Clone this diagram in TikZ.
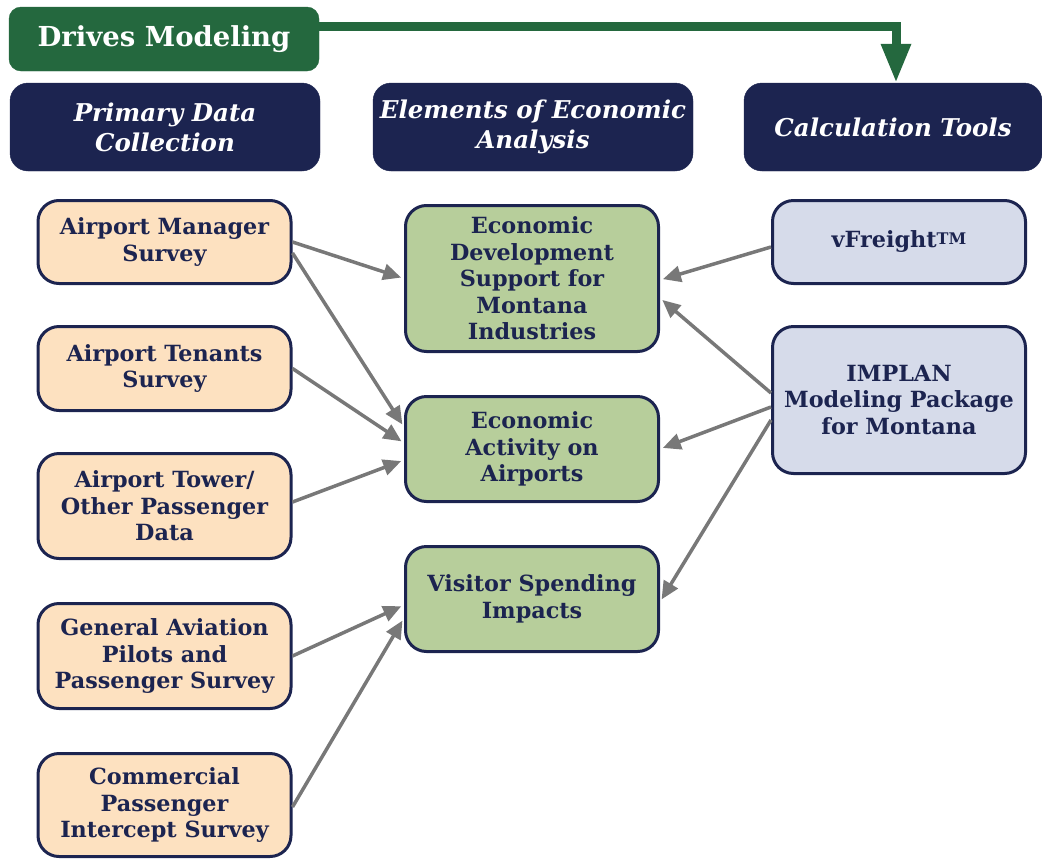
\documentclass[tikz,border=0pt]{standalone}
\usepackage{fontspec}
\setmainfont{DejaVu Serif}
\usetikzlibrary{arrows.meta}

\definecolor{navy}{RGB}{28,36,80}
\definecolor{forest}{RGB}{36,104,62}
\definecolor{peach}{RGB}{253,225,192}
\definecolor{sage}{RGB}{183,206,155}
\definecolor{mist}{RGB}{214,219,234}
\definecolor{arrowgray}{RGB}{120,120,120}

\tikzset{
  header/.style={fill=navy, draw=navy, rounded corners=18pt, text=white,
    align=center, font=\fontsize{24.5}{30}\selectfont\bfseries\itshape,
    minimum height=88pt, inner sep=0pt},
  itembox/.style={draw=navy, line width=3pt, rounded corners=21pt, text=navy,
    align=center, font=\fontsize{22.3}{26.5}\selectfont\bfseries,
    minimum width=253pt, inner sep=0pt},
  source/.style={itembox, fill=peach},
  element/.style={itembox, fill=sage},
  tool/.style={itembox, fill=mist},
  flow/.style={draw=arrowgray, line width=3.5pt,
    -{Triangle[length=18pt,width=16pt]}, shorten >=3pt},
  drive/.style={draw=forest, line width=9pt,
    -{Triangle[length=39pt,width=28pt]}}
}

\begin{document}
\begin{tikzpicture}[x=1pt,y=-1pt]
\useasboundingbox (0,0) rectangle (1042,860);

% top banner and column headers
\node[fill=forest, draw=forest, rounded corners=12pt, text=white,
  font=\fontsize{27.5}{30}\selectfont\bfseries,
  minimum width=310pt, minimum height=64pt, inner sep=0pt]
  (DM) at (164,39) {Drives Modeling};
\node[header, minimum width=310pt] (H1) at (165,127) {Primary Data\\Collection};
\node[header, minimum width=320pt] (H2) at (533,127) {Elements of Economic\\Analysis};
\node[header, minimum width=298pt] (H3) at (893,127) {Calculation Tools};

% primary data sources
\node[source, minimum height=83pt]  (A) at (164.5,242)   {Airport Manager\\Survey};
\node[source, minimum height=84pt]  (B) at (164.5,368.5) {Airport Tenants\\Survey};
\node[source, minimum height=105pt] (C) at (164.5,506)   {Airport Tower/\\Other Passenger\\Data};
\node[source, minimum height=105pt] (D) at (164.5,656)   {General Aviation\\Pilots and\\Passenger Survey};
\node[source, minimum height=103pt] (E) at (164.5,805)   {Commercial\\Passenger\\Intercept Survey};

% elements of the analysis
\node[element, minimum height=146pt] (G1) at (532,278.5) {Economic\\Development\\Support for\\Montana\\Industries};
\node[element, minimum height=105pt] (G2) at (532,449)   {Economic\\Activity on\\Airports};
\node[element, minimum height=105pt] (G3) at (532,599)   {Visitor Spending\\Impacts};

% calculation tools
\node[tool, minimum height=83pt]  (V) at (899,242) {vFreight{\fontsize{16}{16}\selectfont\raisebox{0.45ex}{TM}}};
\node[tool, minimum height=147pt] (I) at (899,400) {IMPLAN\\Modeling Package\\for Montana};

% banner arrow
\draw[drive] ([yshift=13pt]DM.east) -| ([xshift=3pt]H3.north);

% sources feeding the elements
\draw[flow] (A.east) -- (G1.west);
\draw[flow] ([yshift=-11pt]A.east) -- ([yshift=22pt]G2.west);
\draw[flow] ([yshift=0pt]B.east) -- ([yshift=6pt]G2.west);
\draw[flow] ([yshift=4pt]C.east) -- ([yshift=-11pt]G2.west);
\draw[flow] (D.east) -- ([yshift=-6pt]G3.west);
\draw[flow] ([yshift=-2pt]E.east) -- ([yshift=-19pt]G3.west);

% tools feeding the elements
\draw[flow] ([yshift=-5pt]V.west) -- ([yshift=-1.5pt]G1.east);
\draw[flow] ([yshift=7pt]I.west) -- ([yshift=-19.5pt]G1.east);
\draw[flow] ([yshift=-7pt]I.west) -- (G2.east);
\draw[flow] ([yshift=-20pt]I.west) -- ([yshift=-3pt]G3.east);
\end{tikzpicture}
\end{document}
